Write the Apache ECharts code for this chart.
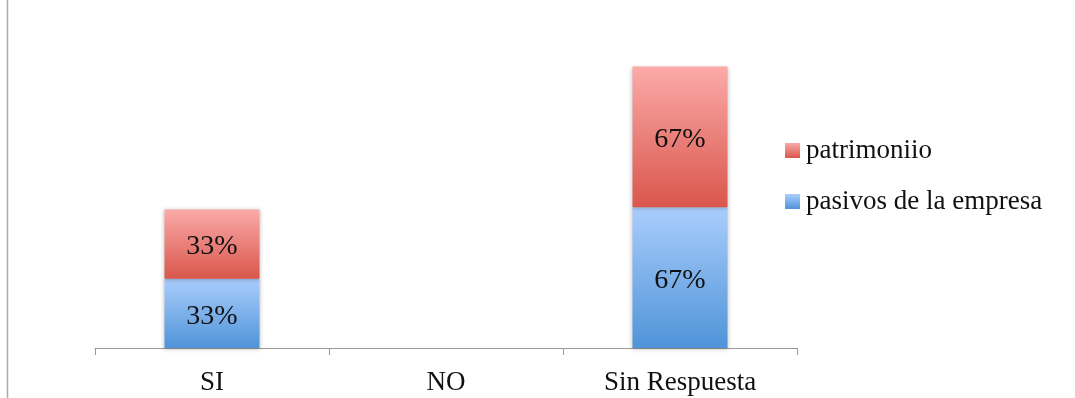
<!DOCTYPE html>
<html>
<head>
<meta charset="utf-8">
<script src="https://cdn.jsdelivr.net/npm/echarts@6/dist/echarts.min.js"></script>
<style>
  html, body { margin: 0; padding: 0; background: #fff; }
  #chart { width: 1075px; height: 398px; }
</style>
</head>
<body>
<div id="chart"></div>
<script>
// Categories and values (percent)
const categories = ['SI', 'NO', 'Sin Respuesta'];
const pasivos = [33, 0, 67];
const patrimonio = [33, 0, 67];
const seriesNames = ['pasivos de la empresa', 'patrimoniio'];

const FONT = '"Liberation Serif", "DejaVu Serif", serif';

function grad(top, bottom) {
  return new echarts.graphic.LinearGradient(0, 0, 0, 1, [
    { offset: 0, color: top },
    { offset: 1, color: bottom }
  ]);
}

const labelOpt = {
  show: true,
  position: 'inside',
  offset: [0, 3],
  color: '#111',
  fontFamily: FONT,
  fontSize: 28,
  formatter: p => (p.value ? p.value + '%' : '')
};

const chart = echarts.init(document.getElementById('chart'));
chart.setOption({
  animation: false,
  grid: { left: 95, right: 278, top: 12, bottom: 50 },
  legend: {
    orient: 'vertical',
    left: 780,
    top: 132,
    itemWidth: 15,
    itemHeight: 15,
    itemGap: 24,
    icon: 'rect',
    data: [seriesNames[1], seriesNames[0]],
    textStyle: { fontFamily: FONT, fontSize: 27, color: '#111', padding: [8, 0, 0, 1] }
  },
  xAxis: {
    type: 'category',
    data: categories,
    boundaryGap: true,
    axisLine: { lineStyle: { color: '#999', width: 1 } },
    axisTick: { show: true, length: 7, lineStyle: { color: '#999' } },
    axisLabel: { fontFamily: FONT, fontSize: 27, color: '#111', margin: 21 }
  },
  yAxis: {
    type: 'value',
    min: 0,
    max: 160,
    show: false,
    splitLine: { show: false }
  },
  series: [
    {
      name: seriesNames[0],
      type: 'bar',
      stack: 'total',
      barWidth: '40.6%',
      data: pasivos,
      itemStyle: {
        color: grad('#aacdfc', '#4f94d8'),
        shadowColor: 'rgba(0,0,0,0.25)',
        shadowBlur: 4,
        shadowOffsetY: 1
      },
      label: labelOpt
    },
    {
      name: seriesNames[1],
      type: 'bar',
      stack: 'total',
      data: patrimonio,
      itemStyle: {
        color: grad('#fbaaa8', '#d9564c'),
        shadowColor: 'rgba(0,0,0,0.25)',
        shadowBlur: 4,
        shadowOffsetY: 1
      },
      label: labelOpt
    }
  ],
  graphic: [
    {
      type: 'line',
      shape: { x1: 7.5, y1: 0, x2: 7.5, y2: 398 },
      style: { stroke: '#aaa', lineWidth: 1.5 }
    }
  ]
});
</script>
</body>
</html>
